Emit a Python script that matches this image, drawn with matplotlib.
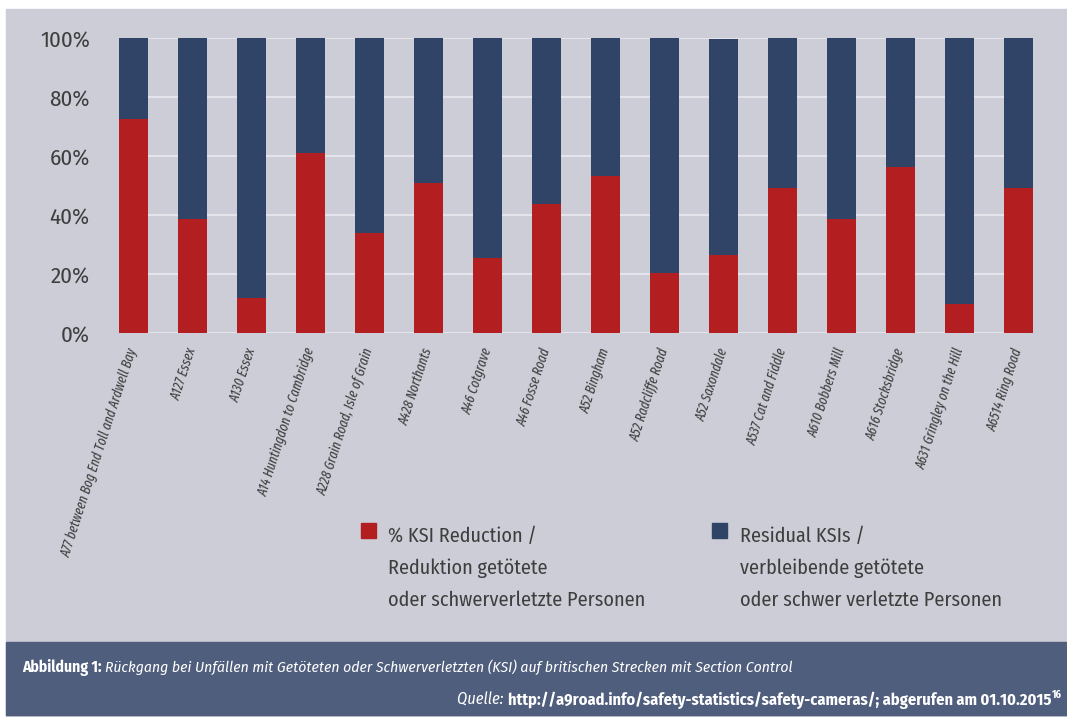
import matplotlib
matplotlib.use("Agg")
import matplotlib.pyplot as plt
from matplotlib.patches import Rectangle
import numpy as np

plt.rcParams["font.family"] = ["Fira Sans Condensed", "DejaVu Sans"]

categories = ["A77 between Bog End Toll and Ardwell Bay", "A127 Essex", "A130 Essex",
              "A14 Huntingdon to Cambridge", "A228 Grain Road, Isle of Grain", "A428 Northants",
              "A46 Cotgrave", "A46 Fosse Road", "A52 Bingham", "A52 Radcliffe Road",
              "A52 Saxondale", "A537 Cat and Fiddle", "A610 Bobbers Mill", "A616 Stocksbridge",
              "A631 Gringley on the Hill", "A6514 Ring Road"]
reduction = [72.5, 38.6, 12.0, 60.9, 33.9, 50.9, 25.5, 43.6, 53.2, 20.4, 26.5, 49.1, 38.6, 56.4, 9.9, 49.1]
residual = [27.5, 61.4, 88.0, 39.1, 66.1, 49.1, 74.5, 56.4, 46.8, 79.6, 73.2, 50.9, 61.4, 43.6, 90.1, 50.9]
yticks = [0, 20, 40, 60, 80, 100]
ytick_labels = ["0%", "20%", "40%", "60%", "80%", "100%"]
legend_labels = ["% KSI Reduction /\nReduktion getötete\noder schwerverletzte Personen",
                 "Residual KSIs /\nverbleibende getötete\noder schwer verletzte Personen"]
caption_bold = "Abbildung 1: "
caption_text = "Rückgang bei Unfällen mit Getöteten oder Schwerverletzten (KSI) auf britischen Strecken mit Section Control"
source_label = "Quelle: "
source_text = "http://a9road.info/safety-statistics/safety-cameras/; abgerufen am 01.10.2015"
source_note = "16"

RED = "#b31f21"
NAVY = "#2f4466"
BG = "#cdcdd7"
FOOT = "#4f5e7c"
TXT = "#3e3e3e"

W, H = 1067, 717
fig = plt.figure(figsize=(W / 100, H / 100), dpi=100, facecolor="white")
fig.patches.append(Rectangle((6 / W, 0), 1, 1 - 9 / H, transform=fig.transFigure, color=BG, zorder=-10))
fig.patches.append(Rectangle((6 / W, 2 / H), 1, 73 / H, transform=fig.transFigure, color=FOOT, zorder=-9))

ax = fig.add_axes([119 / W, 1 - 333 / H, (1033 - 119) / W, (333 - 38) / H])
ax.set_facecolor("none")
x = np.arange(len(categories))
w = 0.49
ax.bar(x, reduction, width=w, color=RED, zorder=3)
ax.bar(x, residual, width=w, bottom=reduction, color=NAVY, zorder=3)
ax.set_xlim(-w / 2, len(categories) - 1 + w / 2)
ax.set_ylim(0, 100)
ax.set_yticks(yticks)
ax.set_yticklabels(ytick_labels, fontsize=16.5, color=TXT)
ax.yaxis.grid(True, color="#e4e4ea", linewidth=1.5, zorder=0)
ax.tick_params(axis="both", length=0)
ax.tick_params(axis="y", pad=21)
ax.set_xticks(x)
ax.set_xticklabels(categories, rotation=72, ha="right", va="center", rotation_mode="anchor",
                   fontsize=10, color=TXT, style="italic", family=["Fira Sans Extra Condensed", "DejaVu Sans"])
ax.tick_params(axis="x", pad=11)
for s in ax.spines.values():
    s.set_visible(False)

# legend
fig.patches.append(Rectangle((361 / W, 1 - 538 / H), 15 / W, 15 / H, transform=fig.transFigure, color=RED))
fig.patches.append(Rectangle((712 / W, 1 - 538 / H), 15 / W, 15 / H, transform=fig.transFigure, color=NAVY))
fig.text(388 / W, 1 - 526 / H, legend_labels[0],
         fontsize=14.5, color=TXT, va="top", ha="left", linespacing=1.82)
fig.text(740 / W, 1 - 526 / H, legend_labels[1],
         fontsize=14.5, color=TXT, va="top", ha="left", linespacing=1.82)

# footer
fs = 11.2
t1 = fig.text(22 / W, 1 - 672 / H, caption_bold, fontsize=fs, color="white", weight="bold", va="baseline")
fig.canvas.draw()
r = fig.canvas.get_renderer()
bb = t1.get_window_extent(r)
fig.text(bb.x1 / W, 1 - 672 / H, caption_text, fontsize=fs, color="white", style="italic", va="baseline")

fs2 = 11.8
yb = 1 - 705 / H
t_note = fig.text(1062 / W, yb + 7 / H, source_note, fontsize=7.5, color="white", weight="bold",
                  va="baseline", ha="right")
fig.canvas.draw()
bn = t_note.get_window_extent(r)
t_src = fig.text((bn.x0 - 1) / W, yb, source_text, fontsize=fs2, color="white", weight="bold",
                 va="baseline", ha="right")
fig.canvas.draw()
bs = t_src.get_window_extent(r)
fig.text(bs.x0 / W, yb, source_label, fontsize=fs2, color="white", style="italic",
         va="baseline", ha="right")

fig.savefig("out.png", dpi=100, facecolor=fig.get_facecolor())
